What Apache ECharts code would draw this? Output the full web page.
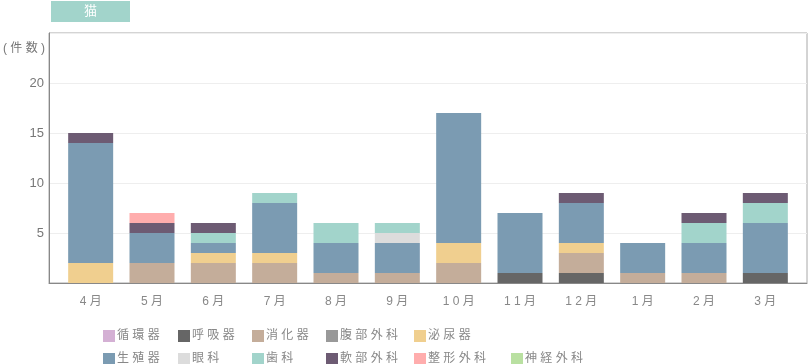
<!DOCTYPE html>
<html>
<head>
<meta charset="utf-8">
<script src="https://cdn.jsdelivr.net/npm/echarts@6/dist/echarts.min.js"></script>
<style>html,body{margin:0;padding:0;background:#fff}#c{width:808px;height:364px}</style>
</head>
<body>
<div id="c"></div>
<script>
// ---- data ----
var categories = ['4月','5月','6月','7月','8月','9月','10月','11月','12月','1月','2月','3月'];
var seriesNames = ['循環器','呼吸器','消化器','腹部外科','泌尿器','生殖器','眼科','歯科','軟部外科','整形外科','神経外科'];
var junkanki   = [0,0,0,0,0,0,0,0,0,0,0,0];
var kokyuki    = [0,0,0,0,0,0,0,1,1,0,0,1];
var shokaki    = [0,2,2,2,1,1,2,0,2,1,1,0];
var fukubu     = [0,0,0,0,0,0,0,0,0,0,0,0];
var hinyoki    = [2,0,1,1,0,0,2,0,1,0,0,0];
var seishokki  = [12,3,1,5,3,3,13,6,4,3,3,5];
var ganka      = [0,0,0,0,0,1,0,0,0,0,0,0];
var shika      = [0,0,1,1,2,1,0,0,0,0,2,2];
var nanbu      = [1,1,1,0,0,0,0,0,1,0,1,1];
var seikei     = [0,1,0,0,0,0,0,0,0,0,0,0];
var shinkei    = [0,0,0,0,0,0,0,0,0,0,0,0];
var yTicks = [5,10,15,20];

var values = [junkanki,kokyuki,shokaki,fukubu,hinyoki,seishokki,ganka,shika,nanbu,seikei,shinkei];
var colors = ['#d4b0d4','#666666','#c4ad9a','#999999','#f0cf8f','#7b9bb2','#dcdcdc','#a2d4cb','#6d5b73','#ffadad','#b9e0a1'];

var FONT = "'Liberation Sans','Noto Sans CJK JP',sans-serif";
function spaced(s){ return s.split('').join(' '); }

var chart = echarts.init(document.getElementById('c'), null, {renderer:'canvas'});

var series = seriesNames.map(function(n,i){
  return {
    name: n, type: 'bar', stack: 'total',
    xAxisIndex: 1, yAxisIndex: 1,
    barWidth: 45,
    itemStyle: {color: colors[i]},
    emphasis: {disabled: true},
    data: values[i]
  };
});

function legendCol(names, left, top){
  return {
    orient: 'vertical', left: left, top: top, height: 60, width: 120,
    data: names, icon: 'rect', itemWidth: 12, itemHeight: 12, itemGap: 11,
    padding: 0, selectedMode: false,
    formatter: function(n){ return spaced(n); },
    textStyle: {fontSize: 12, color: '#888', fontFamily: FONT, lineHeight: 12, padding:[0,0,0,-3]}
  };
}

var option = {
  animation: false,
  color: colors,
  textStyle: {fontFamily: FONT},
  grid: [
    {left: 49, top: 33, width: 758, height: 250, show: true, borderColor: '#a8a8a8', borderWidth: 1},
    {left: 60, top: 33, width: 736, height: 250}
  ],
  xAxis: [
    {gridIndex: 0, type: 'category', data: categories,
     axisLine: {show: true, lineStyle: {color: '#888'}}, axisTick: {show: false}, axisLabel: {show: false}, splitLine: {show: false}},
    {gridIndex: 1, type: 'category', data: categories,
     axisLine: {show: false}, axisTick: {show: false},
     axisLabel: {color: '#888', fontSize: 12, margin: 13, fontFamily: FONT, formatter: function(v){ return spaced(v); }}}
  ],
  yAxis: [
    {gridIndex: 0, type: 'value', min: 0, max: 25, interval: 5,
     axisLine: {show: true, lineStyle: {color: '#888'}}, axisTick: {show: false},
     axisLabel: {color: '#777', fontSize: 13, margin: 5, fontFamily: FONT,
       formatter: function(v){ return yTicks.indexOf(v) >= 0 ? String(v) : ''; }},
     splitLine: {show: true, lineStyle: {color: '#eeeeee'}}},
    {gridIndex: 1, type: 'value', min: 0, max: 25, interval: 5, show: false, splitLine: {show: false}}
  ],
  legend: [
    legendCol(['循環器','生殖器'], 103, 330),
    legendCol(['呼吸器','眼科'], 178, 330),
    legendCol(['消化器','歯科'], 252, 330),
    legendCol(['腹部外科','軟部外科'], 326, 330),
    legendCol(['泌尿器','整形外科'], 414, 330),
    legendCol(['神経外科'], 511, 353)
  ],
  graphic: [
    {type: 'rect', left: 51, top: 1, shape: {width: 79, height: 21}, style: {fill: '#a2d4cb'}},
    {type: 'text', left: 84, top: 5, style: {text: '猫', fill: '#fff', fontSize: 13, fontFamily: FONT}},
    {type: 'text', right: 763, top: 43, style: {text: '( 件 数 )', fill: '#777', fontSize: 12, fontFamily: FONT}}
  ],
  series: series
};
chart.setOption(option);
</script>
</body>
</html>
